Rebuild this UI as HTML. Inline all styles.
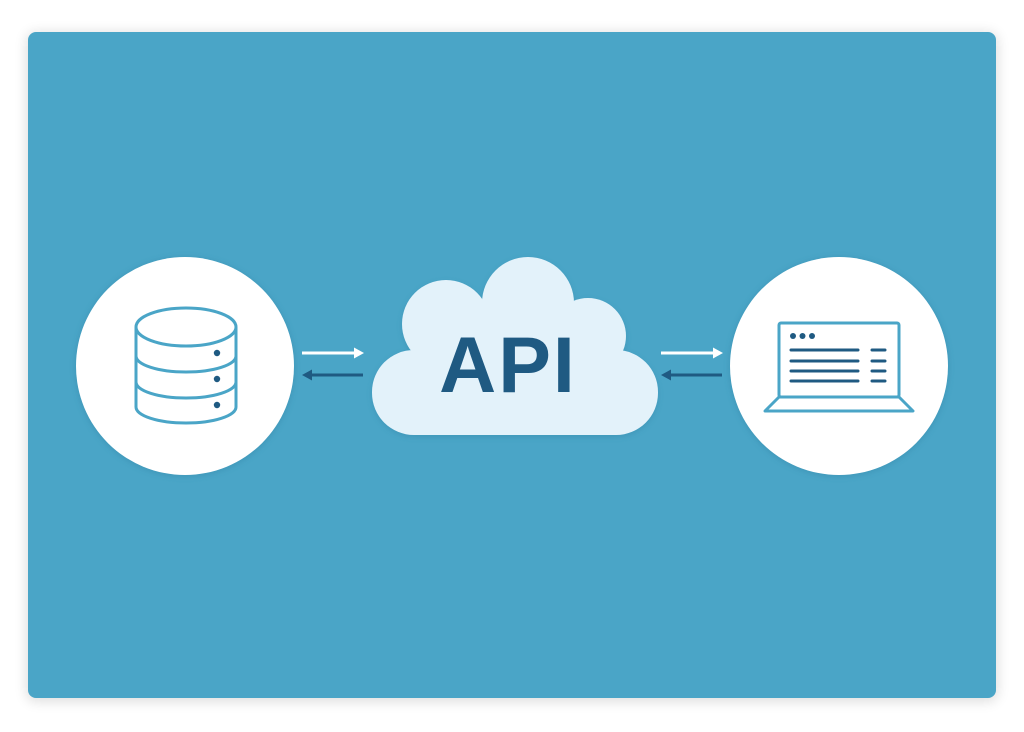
<!DOCTYPE html>
<html><head><meta charset="utf-8"><style>
html,body{margin:0;padding:0;background:#fff;width:1024px;height:732px;overflow:hidden}
svg{display:block}
</style></head><body>
<svg width="1024" height="732" viewBox="0 0 1024 732" xmlns="http://www.w3.org/2000/svg">
<defs>
<filter id="sh" x="-10%" y="-10%" width="120%" height="120%"><feGaussianBlur stdDeviation="6"/></filter>
<filter id="cs" x="-20%" y="-20%" width="140%" height="140%"><feGaussianBlur stdDeviation="3"/></filter>
</defs>
<rect x="26" y="32" width="972" height="670" rx="10" fill="#000" opacity="0.12" filter="url(#sh)"/>
<rect x="28" y="32" width="968" height="666" rx="8" fill="#4aa5c7"/>
<circle cx="185" cy="367" r="110" fill="#2f7fa0" opacity="0.35" filter="url(#cs)"/>
<circle cx="839" cy="367" r="110" fill="#2f7fa0" opacity="0.35" filter="url(#cs)"/>
<circle cx="185" cy="366" r="109" fill="#fff"/>
<circle cx="839" cy="366" r="109" fill="#fff"/>
<g fill="none" stroke="#4aa5c7" stroke-width="3">
<ellipse cx="186" cy="327" rx="50" ry="19"/>
<path d="M136 327 V407 A50 16 0 0 0 236 407 V327"/>
<path d="M136 356 A50 16 0 0 0 236 356"/>
<path d="M136 382 A50 16 0 0 0 236 382"/>
</g>
<g fill="#1f5a82"><circle cx="217" cy="353" r="3.2"/><circle cx="217" cy="379" r="3.2"/><circle cx="217" cy="405" r="3.2"/></g>
<g stroke-width="3">
<line x1="302" y1="353" x2="356" y2="353" stroke="#fff"/>
<polygon points="364,353 354,347.5 354,358.5" fill="#fff"/>
<line x1="310" y1="375" x2="363" y2="375" stroke="#1f5a82"/>
<polygon points="302,375 312,369.5 312,380.5" fill="#1f5a82"/>
<line x1="661" y1="353" x2="715" y2="353" stroke="#fff"/>
<polygon points="723,353 713,347.5 713,358.5" fill="#fff"/>
<line x1="669" y1="375" x2="722" y2="375" stroke="#1f5a82"/>
<polygon points="661,375 671,369.5 671,380.5" fill="#1f5a82"/>
</g>
<g fill="#2f7fa0" opacity="0.35" filter="url(#cs)" transform="translate(0,2)">
<circle cx="528" cy="303" r="46"/><circle cx="446" cy="324" r="44"/><circle cx="588" cy="336" r="38"/>
<rect x="372" y="350" width="286" height="85" rx="42"/>
</g>
<g fill="#e3f2fa">
<circle cx="528" cy="303" r="46"/><circle cx="446" cy="324" r="44"/><circle cx="588" cy="336" r="38"/>
<rect x="372" y="350" width="286" height="85" rx="42"/>
<rect x="420" y="320" width="190" height="60"/>
</g>
<text x="508" y="392" text-anchor="middle" font-family="Liberation Sans, sans-serif" font-weight="bold" font-size="79" letter-spacing="2" fill="#1f5a82">API</text>
<g fill="none" stroke="#4aa5c7" stroke-width="3" stroke-linejoin="round">
<rect x="779" y="323" width="120" height="74" rx="2"/>
<path d="M779 397 L899 397 L913 411 L765 411 Z"/>
</g>
<g fill="#1f5a82"><circle cx="793" cy="336" r="3"/><circle cx="802.5" cy="336" r="3"/><circle cx="812" cy="336" r="3"/></g>
<g stroke="#1f5a82" stroke-width="3" stroke-linecap="round">
<line x1="791" y1="350" x2="858" y2="350"/><line x1="791" y1="361" x2="858" y2="361"/>
<line x1="791" y1="371" x2="858" y2="371"/><line x1="791" y1="381" x2="858" y2="381"/>
<line x1="872" y1="350" x2="885" y2="350"/><line x1="872" y1="361" x2="885" y2="361"/>
<line x1="872" y1="371" x2="885" y2="371"/><line x1="872" y1="381" x2="885" y2="381"/>
</g>
</svg>
</body></html>
